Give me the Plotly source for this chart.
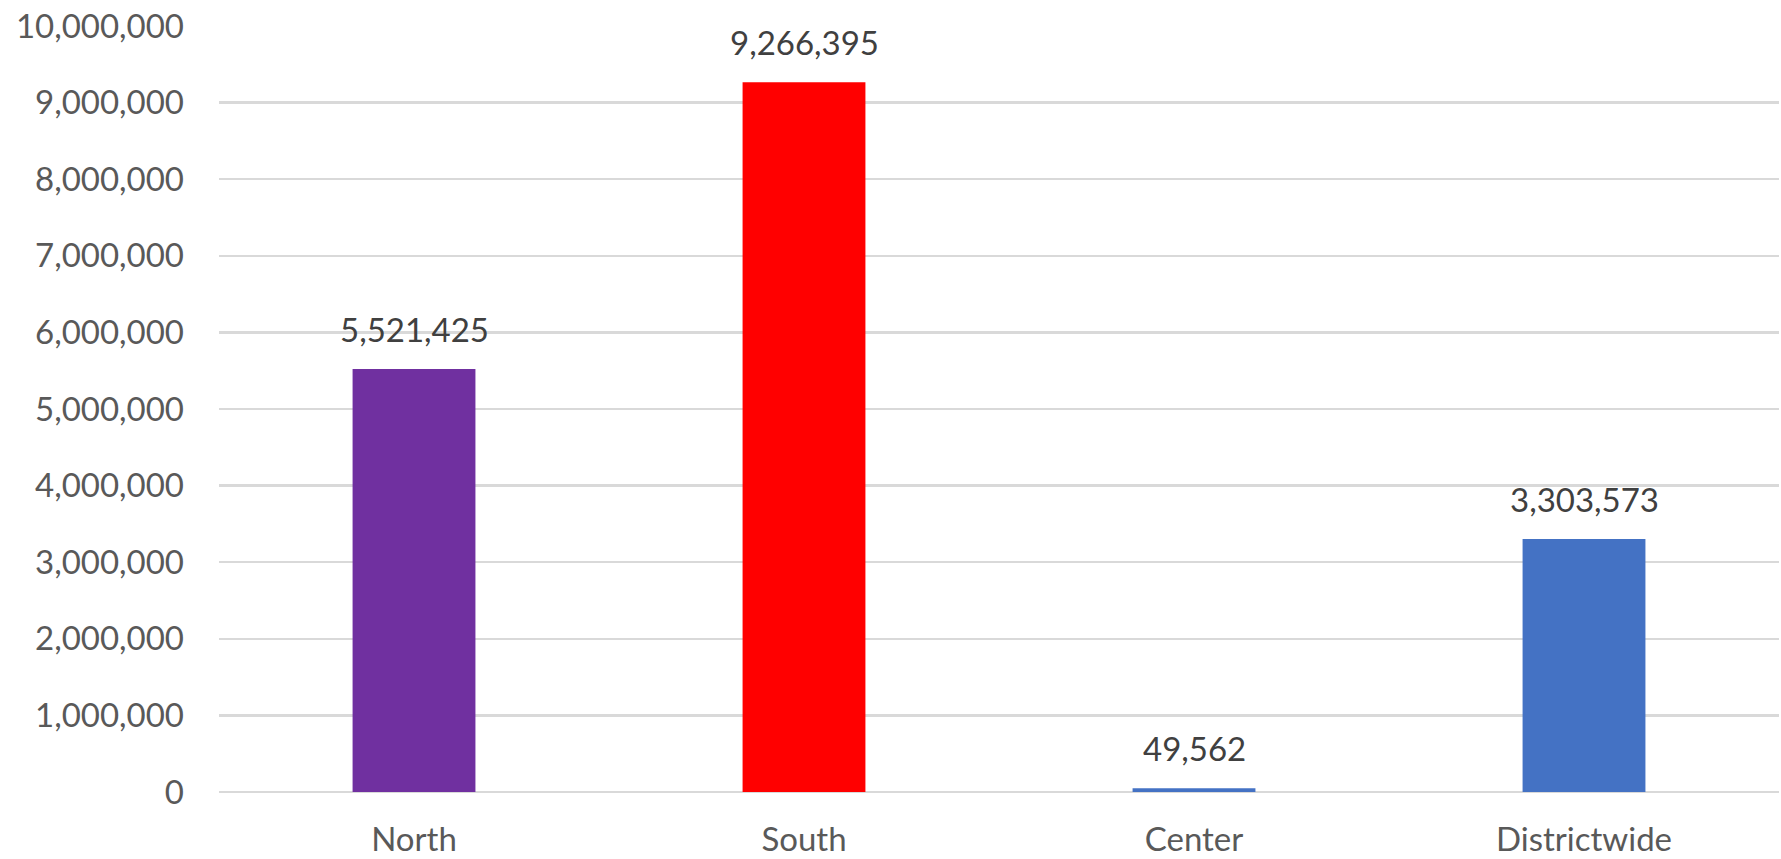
import plotly.graph_objects as go

categories = ["North", "South", "Center", "Districtwide"]
values = [5521425, 9266395, 49562, 3303573]
bar_colors = ["#7030A0", "#FF0000", "#4472C4", "#4472C4"]
y_ticks = list(range(0, 10000001, 1000000))
y_tick_labels = [f"{v:,}" for v in y_ticks]

FONT = "Lato, 'Open Sans', sans-serif"

fig = go.Figure()
fig.add_trace(go.Bar(
    x=categories,
    y=values,
    marker=dict(color=bar_colors, line=dict(width=0)),
    hoverinfo="skip",
))

for c, v in zip(categories, values):
    fig.add_annotation(
        x=c, y=v, text=f"{v:,}", showarrow=False,
        yanchor="bottom", yshift=18,
        font=dict(family=FONT, size=33, color="#404040"),
    )

fig.update_layout(
    width=1781, height=859,
    margin=dict(l=219, r=2, t=26, b=67),
    paper_bgcolor="white", plot_bgcolor="white",
    showlegend=False,
    bargap=0.685,
    font=dict(family=FONT, size=33, color="#595959"),
)
fig.update_xaxes(
    showgrid=False, showline=False, zeroline=False, ticks="",
    ticklabelstandoff=25,
    tickfont=dict(family=FONT, size=33, color="#595959"),
)
fig.update_yaxes(
    range=[0, 10000000],
    tickvals=y_ticks, ticktext=y_tick_labels,
    showgrid=True, gridcolor="#D9D9D9", gridwidth=2.5,
    zeroline=True, zerolinecolor="#D9D9D9", zerolinewidth=2.5,
    showline=False, ticks="",
    ticklabelstandoff=34,
    tickfont=dict(family=FONT, size=33, color="#595959"),
)

fig.write_html(
    "out.html",
    config={"displayModeBar": False, "staticPlot": True},
    post_script="document.body.style.margin='0';document.body.style.overflow='hidden';",
)
